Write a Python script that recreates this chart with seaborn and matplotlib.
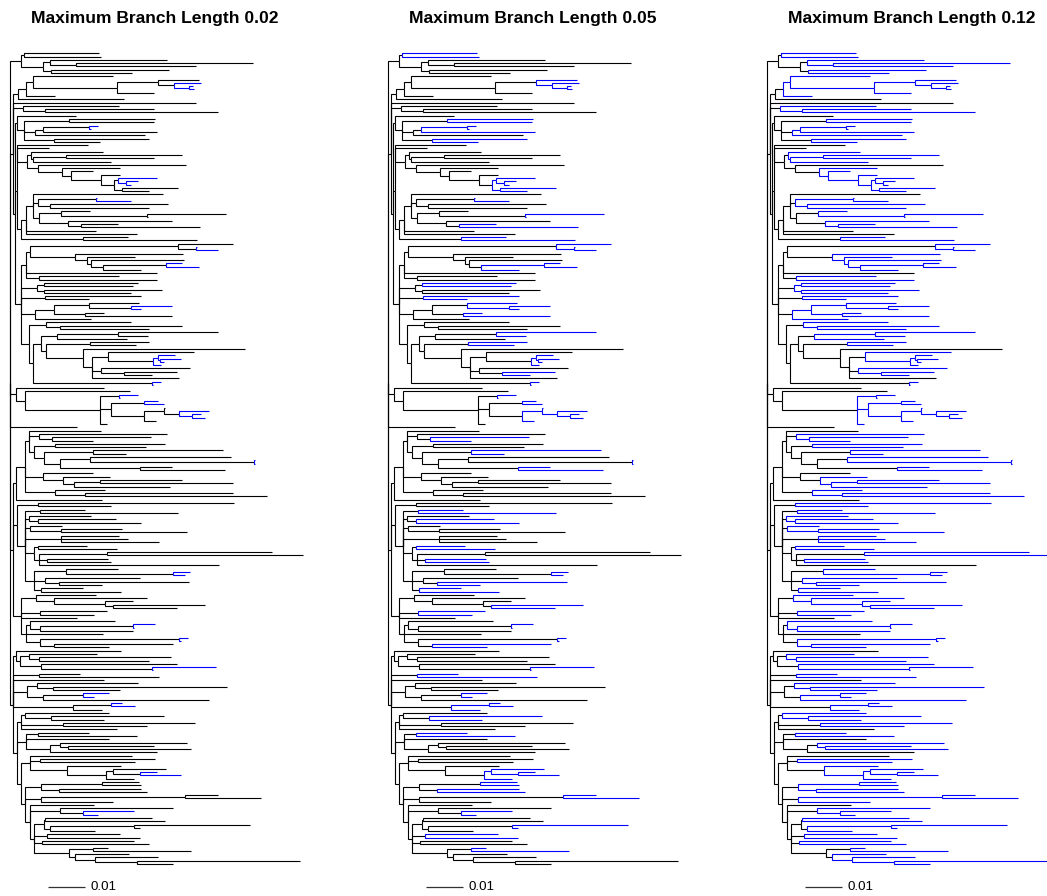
import re
import matplotlib
matplotlib.use("Agg")
import matplotlib.pyplot as plt
import matplotlib.transforms as mtransforms
import pandas as pd
import seaborn as sns

# Phylogeny in Newick, tips unnamed, branch lengths in units of 0.001 subst./site,
# read off the picture clade by clade (top to bottom)
CLADE_A = "((:20.2,:20.6):0.9,((:31.7,(:47.8,:32.3):7.1):1.8,(:31.9,:22.0):2.1):6.0):3.0"
CLADE_B = "(((:21.7,((:11.1,(:7.4,(:1.2,:1.4):4.1):4.3):11.0,:9.9):22.8):1.7,:7.8):2.3,:28.6):1.2"
CLADE_C = "(:26.1,(:29.4,:46.7):6.1):2.5"
CLADE_D = "(:15.9,((:23.2,:23.0):12.3,(((:2.5,:0.5):12.4,:30.6):2.3,:29.7):3.0,(:25.6,:12.4):8.2):1.8):0.5"
CLADE_E1 = ("(:19.2,:8.6,((:19.4,((:31.5,:23.9):8.7,:20.9):0.6):1.0,(:40.0,(:15.6,(:5.8,(:5.1,"
            "((:10.5,(:3.3,:1.3):2.1):1.1,(:15.1,:7.2):2.2):3.6):8.1):2.5):6.5):2.8):2.7):0.2")
CLADE_E2 = ("(((:35.1,((:0.2,:9.5):15.5,(:31.7,:26.8):3.2):1.4,((:7.7,(:21.4,:0.3):23.2):6.0,"
            "(:28.2,(:9.9,:32.1):3.6):7.8):1.6):2.0,:18.9,:30.1):1.4,(:12.1,:30.8):16.8):1.1")
CLADE_F1 = ("(((:14.8,(:0.2,:5.8):4.8):40.1,(:29.1,(:12.9,(:25.2,((:4.5,:8.9):17.0,:10.2):3.2)"
            ":1.0):3.2):12.3):1.2,:35.4,(:21.6,:31.7):3.7):1.1")
CLADE_F2 = "((:25.4,:23.9):2.1,(:31.9,:23.4):2.1):4.1"
CLADE_F3 = "(:26.0,:11.9):6.4"
CLADE_F4 = "(((:13.6,(:11.1,:2.7):11.4):9.4,(:5.0,:23.5):8.5):5.2,:15.1):3.6"
CLADE_F5 = ("((:22.9,(:33.0,:24.1):3.8):4.5,((((:27.0,:8.1):16.4,:18.9):4.3,((:16.2,:12.6):11.9,"
            "(:43.8,((:23.0,((:4.7,(:5.6,:1.1):0.5):1.4,:2.3):12.0):4.4,(:24.1,(:14.2,:7.7):6.2)"
            ":2.4,:23.5):2.4):10.2):1.1):2.2,(:2.4,:0.3):32.0):1.1):2.1")
CLADE_H = ("(:23.9,(:28.3,((:5.0,:0.2):5.2,((:3.6,:5.2):9.0,((:0.2,(:8.0,(:2.3,:3.3):3.5):4.1)"
           ":5.4,:3.2):9.0):3.0,:1.8):20.2):2.6):1.5")
TIP_MID = ":18.2"
CLADE_G1 = ("(((:19.5,(:34.5,(:26.6,:11.1):3.6):2.6,((:29.7,:24.5):5.6,((:35.0,:8.8):13.2,"
            "((:38.1,(:0.2,:0.2):44.3):8.3,(:8.7,:23.2):21.6):4.1):2.7):1.4):1.1,(:13.5,(:12.6,"
            "((:22.3,:36.0):7.0,:25.9):2.9):5.4):4.9,(:13.6,(:39.9,:49.1):8.3):8.0):2.5,:23.2):0.7")
CLADE_G2 = ("((:52.9,:19.6):5.7,((:12.0,:37.1):4.1,(:16.8,(:21.0,:27.7):2.7):0.9,(:8.8,(:16.5,"
            ":33.9):8.6):1.2,(:15.6,:18.2,:26.6):9.7,((:13.3,:21.3):1.1,((:44.6,:53.0):18.5,"
            "(:16.7,:17.5):2.1,:48.6):1.4):2.3,((:13.9,(:4.7,:3.3):28.8):8.8,(:25.8,(:35.1,:11.7)"
            ":3.8):3.0,(:11.3,:21.6):2.0):2.3):2.1):1.1")
CLADE_G3 = ("((:16.2,(:24.9,(:7.7,(:24.9,:17.4):2.2):13.6):5.0):4.0,(:18.2,:14.6):5.1,:15.1,"
            "((:22.8,((:5.9,:0.2):25.0,:25.0):2.7):1.2,:20.8,((:2.3,:0.3):37.6,(:32.3,:14.9)"
            ":3.6):3.9):1.3):2.1")
CLADE_K1 = "(:28.4,((:18.2,(:35.6,:29.7):2.7):2.5,(:36.9,(:17.1,:0.2):30.2):5.6):1.1):0.7"
CLADE_K2 = "(:11.0,:32.4):7.0"
TIP_K3 = ":24.6"
CLADE_K4 = "((:27.1,(:47.1,:18.3):4.1):2.7,((:7.2,:3.1):10.6,:44.8):4.3):3.8"
CLADE_K5 = "((:3.2,:6.5):10.3,:8.0):16.0"
CLADE_K6A = "((:22.7,(:30.6,:14.4):7.0):1.2,(:35.6,:22.5):11.5,:25.9):0.9"
CLADE_K6B = "((:13.7,:26.6):3.4,:22.5,((:34.4,(:23.0,:33.1):2.4):2.5,:28.8):6.6):2.3"
CLADE_K6C = "(:27.7,(:31.0,:25.6):2.7,(:14.4,((:14.4,(:4.5,:11.0):7.4):1.8,:7.4):10.5):10.1):2.4"
CLADE_K6D = ("(((:10.0,:10.5):16.5,(:22.2,:23.8):4.9):4.2,((:8.8,:20.5):39.0,:19.5):4.3,"
             "(:17.5,(:30.5,(:13.9,:4.0):6.1):8.3,(((:29.0,:32.4):0.3,((:31.5,:1.8):22.5,:12.0)"
             ":1.8):2.7,(:19.8,:25.0):3.6,(:24.8,:28.8):2.3,((:4.0,:26.3):6.6,(:14.4,(:16.8,"
             "(:43.9,:9.6):11.3):5.4):1.8):9.5):1.1):1.2):1.1")

THRESHOLDS = [0.02, 0.05, 0.12]
TITLES = ["Maximum Branch Length 0.02", "Maximum Branch Length 0.05", "Maximum Branch Length 0.12"]
SCALE_BAR = 0.01
SCALE_LABEL = "0.01"
UNIT = 0.001

# assemble the tree
clade_e = "(" + CLADE_E1 + "," + CLADE_E2 + "):0.4"
clade_f = "(" + ",".join([CLADE_F1, CLADE_F2, CLADE_F3, CLADE_F4, CLADE_F5]) + "):1.7"
clade_top = "(" + CLADE_B + ",:49.4," + CLADE_C + ",(" + CLADE_D + "," + clade_e + "," + clade_f + "):0.5):0.9"
clade_bot1 = "(" + ",".join([CLADE_G1, CLADE_G2, CLADE_G3]) + "):0.9"
clade_k6 = "(" + CLADE_K6A + "," + CLADE_K6B + ",(" + CLADE_K6C + "," + CLADE_K6D + "):1.0):1.1"
clade_bot2 = "(" + ",".join([CLADE_K1, CLADE_K2, TIP_K3, CLADE_K4, CLADE_K5, clade_k6]) + "):0.9"
TREE = "(" + ",".join([CLADE_A, clade_top, CLADE_H, TIP_MID, clade_bot1, clade_bot2]) + ");"


def parse_newick(text):
    s = re.sub(r"\s+", "", text).rstrip(";")
    pos = 0

    def node():
        nonlocal pos
        n = {"children": [], "length": 0.0}
        if s[pos] == "(":
            pos += 1
            while True:
                n["children"].append(node())
                if s[pos] == ",":
                    pos += 1
                else:
                    pos += 1  # ')'
                    break
        m = re.match(r"[^:,();]*", s[pos:])
        pos += m.end()
        if pos < len(s) and s[pos] == ":":
            pos += 1
            m = re.match(r"[0-9.eE+-]+", s[pos:])
            n["length"] = float(m.group())
            pos += m.end()
        return n

    return node()


root = parse_newick(TREE)
tip_count = 0


def place(n, x):
    # x position, tip order and total branch length inside the subtree
    global tip_count
    n["x"] = x
    if not n["children"]:
        tip_count += 1
        n["y"] = tip_count
        n["total"] = 0.0
        return
    for c in n["children"]:
        place(c, x + c["length"])
    n["y"] = (n["children"][0]["y"] + n["children"][-1]["y"]) / 2
    n["total"] = sum(c["length"] + c["total"] for c in n["children"])


place(root, 0.0)
N_TIPS = tip_count

rows = []
edge_id = 0


def collect(n):
    global edge_id
    for c in n["children"]:
        for px, py in [(n["x"], n["y"]), (n["x"], c["y"]), (c["x"], c["y"])]:
            rows.append({"edge": edge_id, "x": px, "y": py, "parent_total": n["total"]})
        edge_id += 1
        collect(c)


collect(root)
edges = pd.DataFrame(rows)

sns.set_style("white")
plt.rcParams["font.family"] = ["Liberation Sans", "DejaVu Sans"]

W, H = 1047, 896
PX_PER_UNIT = 3.7
XMAX = 82
ROOT_PX = [10, 388, 767]
TOP_PX, BOTTOM_PX = 53.3, 864

fig = plt.figure(figsize=(W / 100, H / 100), dpi=100)
for t, title, rx in zip(THRESHOLDS, TITLES, ROOT_PX):
    ax = fig.add_axes([rx / W, (H - BOTTOM_PX) / H, XMAX * PX_PER_UNIT / W, (BOTTOM_PX - TOP_PX) / H])
    df = edges.copy()
    df["cluster"] = (df["parent_total"] <= t / UNIT + 1e-9).map({True: "in", False: "out"})
    sns.lineplot(data=df, x="x", y="y", units="edge", estimator=None, sort=False,
                 hue="cluster", palette={"in": "#0000FF", "out": "black"},
                 legend=False, linewidth=0.8, ax=ax)
    for ln in ax.lines:
        ln.set_clip_on(False)
        ln.set_solid_capstyle("butt")
        ln.set_solid_joinstyle("miter")
    ax.set_xlim(0, XMAX)
    ax.set_ylim(N_TIPS, 1)
    ax.axis("off")

    trans = mtransforms.blended_transform_factory(ax.transData, ax.transAxes)
    bar_y = -(887 - BOTTOM_PX) / (BOTTOM_PX - TOP_PX)
    x0 = 38 / PX_PER_UNIT
    ax.plot([x0, x0 + SCALE_BAR / UNIT], [bar_y, bar_y], color="#333333", lw=0.9,
            transform=trans, clip_on=False, solid_capstyle="butt")
    ax.text(x0 + SCALE_BAR / UNIT + 1.4, bar_y, SCALE_LABEL, transform=trans,
            ha="left", va="center", fontsize=9.6, color="black")

    fig.text((rx + 145) / W, 1 - 18 / H, title, ha="center", va="center",
             fontsize=12.6, fontweight="bold", color="black")

fig.savefig("out.png", dpi=100)
